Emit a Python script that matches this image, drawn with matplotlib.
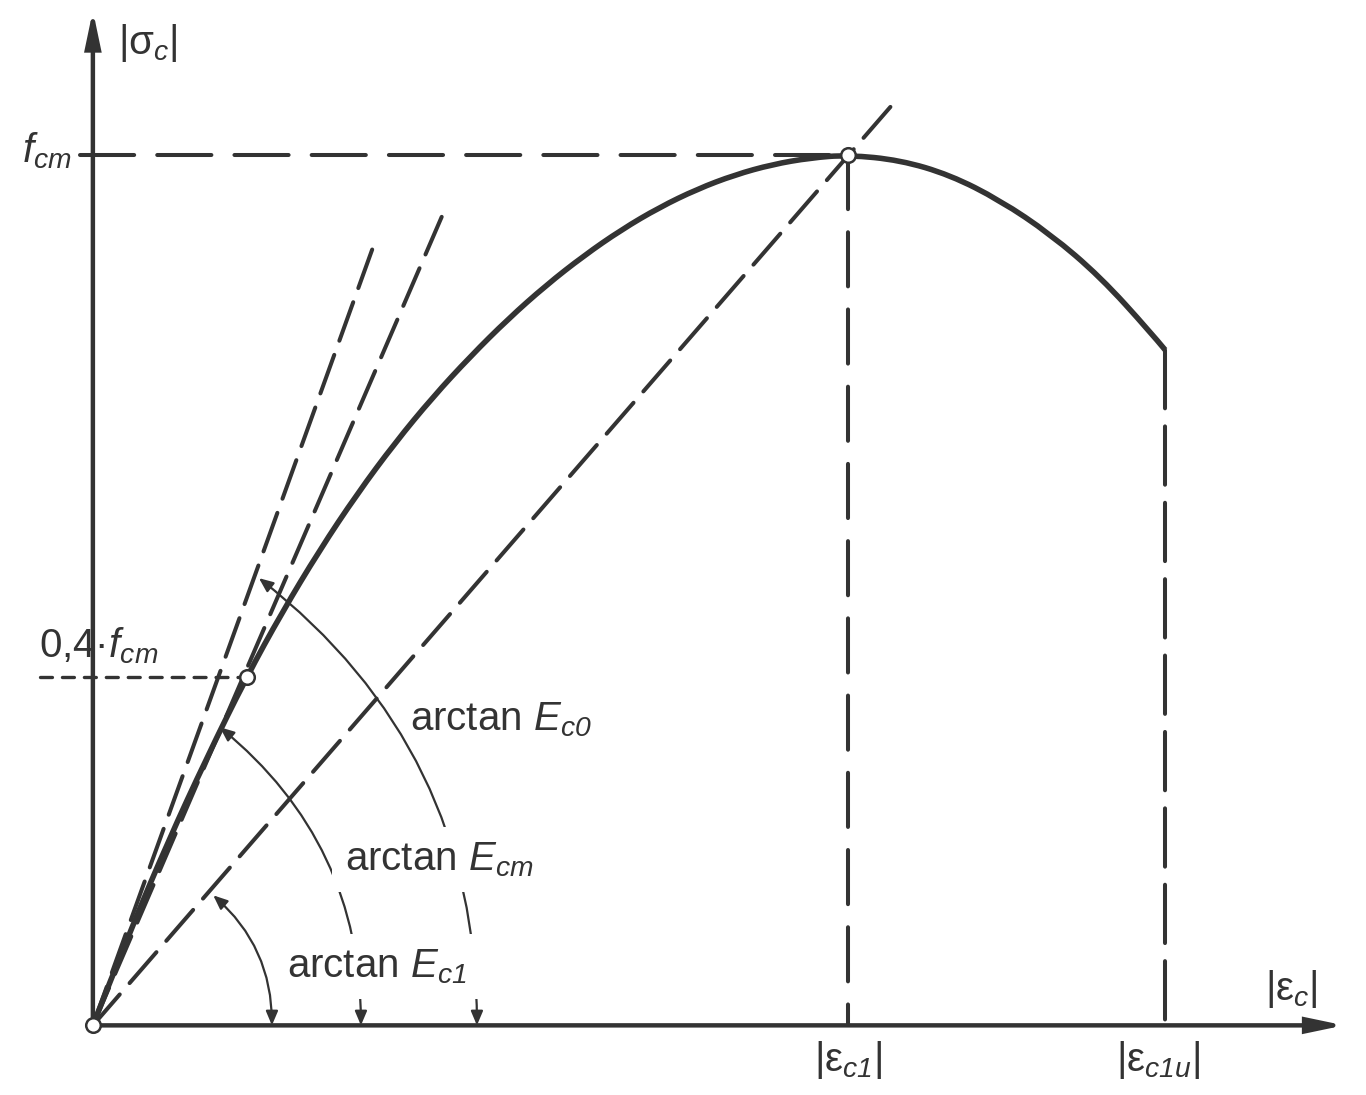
import numpy as np
import matplotlib
matplotlib.use('Agg')
import matplotlib.pyplot as plt
from matplotlib.patches import FancyArrowPatch, PathPatch
from matplotlib.path import Path

plt.rcParams['font.family'] = ['Liberation Sans', 'DejaVu Sans']
plt.rcParams['mathtext.fontset'] = 'custom'
plt.rcParams['mathtext.rm'] = 'Liberation Sans'
plt.rcParams['mathtext.it'] = 'Liberation Sans:italic'
# italic font for subscripts with digits (mathit keeps digits upright)
plt.rcParams['mathtext.sf'] = 'Liberation Sans:italic'
plt.rcParams['mathtext.bf'] = 'Liberation Sans:bold'
plt.rcParams['lines.scale_dashes'] = False

# stress-strain curve, strain as eps/eps_c1 and stress as sigma/f_cm
eps = [0.000, 0.050, 0.100, 0.150, 0.2036, 0.250, 0.300, 0.350, 0.400, 0.450,
       0.500, 0.550, 0.600, 0.650, 0.700, 0.750, 0.800, 0.850, 0.900, 0.950,
       1.000, 1.069, 1.135, 1.201, 1.268, 1.334, 1.400, 1.420]
sig = [0.000, 0.110, 0.212, 0.306, 0.4003, 0.4736, 0.5456, 0.6106, 0.6691, 0.7216,
       0.7686, 0.8116, 0.8501, 0.8841, 0.9141, 0.9396, 0.9606, 0.9771, 0.9891, 0.9966,
       1.000, 0.994, 0.977, 0.948, 0.909, 0.860, 0.797, 0.776]

eps_04, sig_04 = 0.2036, 0.4003      # point at 0.4*f_cm
eps_c1u, sig_c1u = 1.420, 0.776      # end of the curve

# far ends of the dashed modulus lines (they all start in the origin)
line_ends = [(0.371, 0.894),   # tangent E_c0
             (0.464, 0.933),   # secant E_cm
             (1.057, 1.056)]   # secant E_c1

# angle arrows: foot on the strain axis, tip on the line, bend
arc_feet = [0.5086, 0.355, 0.2371]
arc_tips = [(0.2199, 0.5138), (0.1682, 0.3425), (0.1594, 0.1494)]
arc_rad = [0.244, 0.237, 0.227]
arc_labels = ['arctan $\\mathsf{E_{c0}}$', 'arctan $\\mathsf{E_{cm}}$',
              'arctan $\\mathsf{E_{c1}}$']
arc_label_pos = [(0.420, 0.339), (0.334, 0.178), (0.257, 0.055)]

dark = '#333333'

fig = plt.figure(figsize=(13.66, 10.95), dpi=100)
ax = fig.add_axes([0, 0, 1, 1])
ax.set_xlim(-0.123, 1.686)
ax.set_ylim(-0.080, 1.178)
ax.axis('off')

# axes with arrow heads
for end in [(1.657, 0), (0, 1.166)]:
    ax.add_patch(FancyArrowPatch((0, 0), end, arrowstyle='-|>,head_length=21,head_width=4.4',
                                 mutation_scale=1, lw=3.2, color=dark, shrinkA=0, shrinkB=0,
                                 joinstyle='miter', zorder=4))

# dashed helper lines
long_dash = (0, (39, 16.6))
ax.plot([-0.017, 1], [1, 1], color=dark, lw=2.9, ls=long_dash, dash_capstyle='round')
ax.plot([1, 1], [1, 0], color=dark, lw=2.9, ls=long_dash, dash_capstyle='round')
ax.plot([eps_c1u, eps_c1u], [sig_c1u, 0], color=dark, lw=2.9, ls=(0, (42, 13)),
        dash_capstyle='round')
ax.plot([-0.070, eps_04], [sig_04, sig_04], color=dark, lw=2.4, ls=(0, (8.6, 7.2)),
        dash_capstyle='round')
for x1, y1 in line_ends:
    ax.plot([0, x1], [0, y1], color=dark, lw=2.9, ls=(0, (29.5, 10.8)), dash_capstyle='round')

# the curve, drawn as a smooth quadratic path through the read points
pts = np.column_stack([eps, sig])
verts = [pts[0]]
codes = [Path.MOVETO]
for i in range(1, len(pts) - 1):
    end = pts[i + 1] if i == len(pts) - 2 else (pts[i] + pts[i + 1]) / 2
    verts += [pts[i], end]
    codes += [Path.CURVE3, Path.CURVE3]
ax.add_patch(PathPatch(Path(verts, codes), fill=False, ec=dark, lw=4,
                       joinstyle='round', capstyle='butt', zorder=4))

# angle arrows
for foot, tip, rad in zip(arc_feet, arc_tips, arc_rad):
    ax.add_patch(FancyArrowPatch((foot, 0), tip, connectionstyle='arc3,rad=%.3f' % rad,
                                 arrowstyle='<|-|>,head_length=8.5,head_width=3.6',
                                 mutation_scale=1, lw=1.6, color=dark,
                                 shrinkA=0, shrinkB=0, zorder=3))

# open circles
ax.plot([0, eps_04, 1], [0, sig_04, 1], 'o', ms=10.5, mfc='white', mec=dark, mew=1.8, zorder=6)

fs = 29
for i, (txt, (x, y)) in enumerate(zip(arc_labels, arc_label_pos)):
    box = None
    if i > 0:
        box = dict(boxstyle='square,pad=0.33', fc='white', ec='none')
    ax.text(x, y, txt, fontsize=fs, color=dark, ha='left', va='baseline', bbox=box, zorder=5)

ax.text(0.033, 1.116, '|σ$_{\\mathsf{c}}$|', fontsize=fs, color=dark, ha='left', va='baseline')
ax.text(-0.028, 0.991, '$\\mathsf{f_{cm}}$', fontsize=fs, color=dark, ha='right', va='baseline')
ax.text(0.087, 0.423, '0,4·$\\mathsf{f_{cm}}$', fontsize=fs, color=dark, ha='right',
        va='baseline')
ax.text(1.552, 0.029, '|ε$_{\\mathsf{c}}$|', fontsize=fs, color=dark, ha='left', va='baseline')
ax.text(1.0, -0.052, '|ε$_{\\mathsf{c1}}$|', fontsize=fs, color=dark, ha='center',
        va='baseline')
ax.text(1.4106, -0.052, '|ε$_{\\mathsf{c1u}}$|', fontsize=fs, color=dark, ha='center',
        va='baseline')

fig.savefig('out.png', dpi=100, facecolor='white')
